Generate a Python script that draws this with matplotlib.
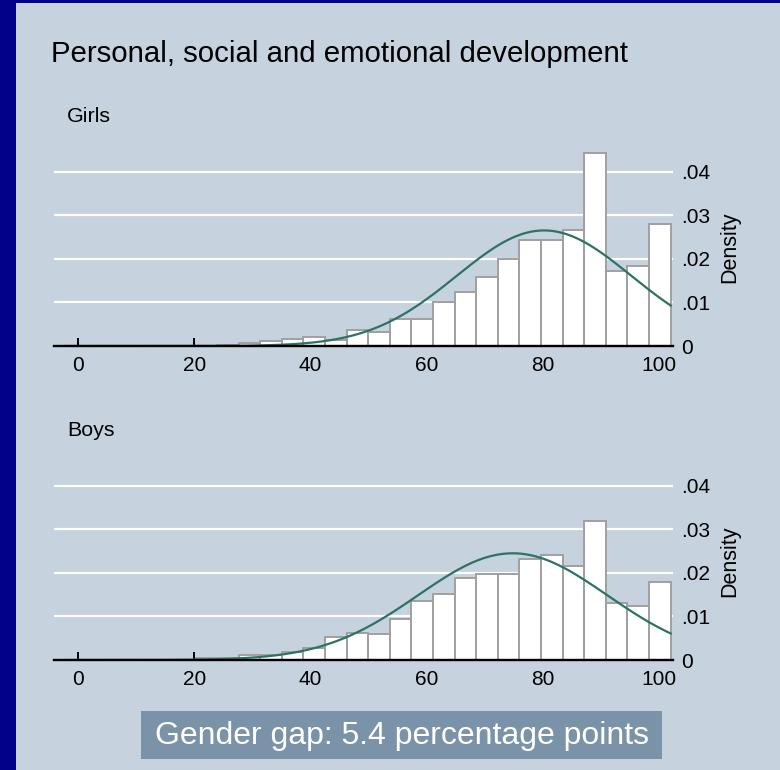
import numpy as np
import matplotlib
matplotlib.use('Agg')
import matplotlib.pyplot as plt
from matplotlib.patches import Rectangle

plt.rcParams['font.family'] = ['Liberation Sans', 'DejaVu Sans']

# ---- data ----
bin_start = -2.13
bin_width = 3.719
girls_density = [0.0001, 0.0, 0.0, 0.0001, 0.0001, 0.0001, 0.0001, 0.0002,
                 0.0006, 0.0011, 0.0016, 0.0021, 0.0014, 0.0037, 0.0031, 0.0063,
                 0.0062, 0.0102, 0.0125, 0.0158, 0.0200, 0.0243, 0.0243, 0.0266,
                 0.0442, 0.0173, 0.0183, 0.0280]
boys_density = [0.0001, 0.0, 0.0, 0.0, 0.0001, 0.0001, 0.0005, 0.0005,
                0.0011, 0.0011, 0.0018, 0.0027, 0.0053, 0.0061, 0.0059, 0.0095,
                0.0135, 0.0151, 0.0188, 0.0198, 0.0198, 0.0232, 0.0240, 0.0215,
                0.0318, 0.0130, 0.0123, 0.0178]
girls_mean, girls_sd = 80.2, 15.05
boys_mean, boys_sd = 74.8, 16.3

x_ticks = [0, 20, 40, 60, 80, 100]
y_ticks = [0, 0.01, 0.02, 0.03, 0.04]
y_tick_labels = ['0', '.01', '.02', '.03', '.04']
title = 'Personal, social and emotional development'
panel_labels = ['Girls', 'Boys']
y_label = 'Density'
gap_text = 'Gender gap: 5.4 percentage points'

# ---- figure ----
W, H = 780, 770
fig = plt.figure(figsize=(W / 100, H / 100), dpi=100)
fig.patch.set_facecolor('#020288')
fig.add_artist(Rectangle((16 / W, 0), 1 - 16 / W, 1 - 3 / H, transform=fig.transFigure,
                         facecolor='#c6d2de', edgecolor='none', zorder=0))

fig.text(51 / W, 1 - 62 / H, title, fontsize=21.2, color='black', ha='left', va='baseline')

ax_left, ax_right = 54, 673
ax_h = 194
bottoms = [346, 660]
series = [(girls_density, girls_mean, girls_sd), (boys_density, boys_mean, boys_sd)]

for i, (dens, mu, sd) in enumerate(series):
    b = bottoms[i]
    ax = fig.add_axes([ax_left / W, 1 - b / H, (ax_right - ax_left) / W, ax_h / H])
    ax.set_facecolor('none')
    n = len(dens)
    edges = bin_start + bin_width * np.arange(n + 1)
    ax.set_axisbelow(True)
    ax.bar(edges[:-1], dens, width=bin_width, align='edge', color='white',
           edgecolor='#a0a0a0', linewidth=1.4, zorder=2)
    xs = np.linspace(edges[0], edges[-1], 400)
    ys = np.exp(-0.5 * ((xs - mu) / sd) ** 2) / (sd * np.sqrt(2 * np.pi))
    ax.plot(xs, ys, color='#2d7363', linewidth=1.6, zorder=3)
    ax.set_xlim(-4.18, 102.4)
    ax.set_ylim(0, ax_h / 4360)
    for s in ['top', 'left', 'right']:
        ax.spines[s].set_visible(False)
    ax.spines['bottom'].set_linewidth(1.7)
    ax.spines['bottom'].set_zorder(4)
    ax.set_xticks(x_ticks)
    ax.set_xticklabels([str(t) for t in x_ticks])
    ax.tick_params(axis='x', direction='in', length=6, width=1.4, color='black',
                   labelsize=15, pad=7)
    ax.set_yticks(y_ticks)
    ax.set_yticklabels(y_tick_labels)
    ax.yaxis.tick_right()
    ax.tick_params(axis='y', length=0, labelsize=15, pad=6)
    ax.grid(axis='y', color='white', linewidth=1.6)
    ax.yaxis.get_gridlines()[0].set_visible(False)
    fig.text(67 / W, 1 - (b - 224) / H, panel_labels[i], fontsize=15.4,
             ha='left', va='baseline')
    fig.text(730 / W, 1 - (b - 99) / H, y_label, fontsize=15.5, rotation=90,
             ha='center', va='center')

# gap box
fig.add_artist(Rectangle((141 / W, 1 - 759 / H), (662 - 141) / W, 48 / H,
                         transform=fig.transFigure, facecolor='#7b93a8',
                         edgecolor='none', zorder=1))
fig.text(402 / W, 1 - 736 / H, gap_text, fontsize=23, color='white',
         ha='center', va='center', zorder=2)

fig.savefig('out.png', dpi=100, facecolor=fig.get_facecolor())
